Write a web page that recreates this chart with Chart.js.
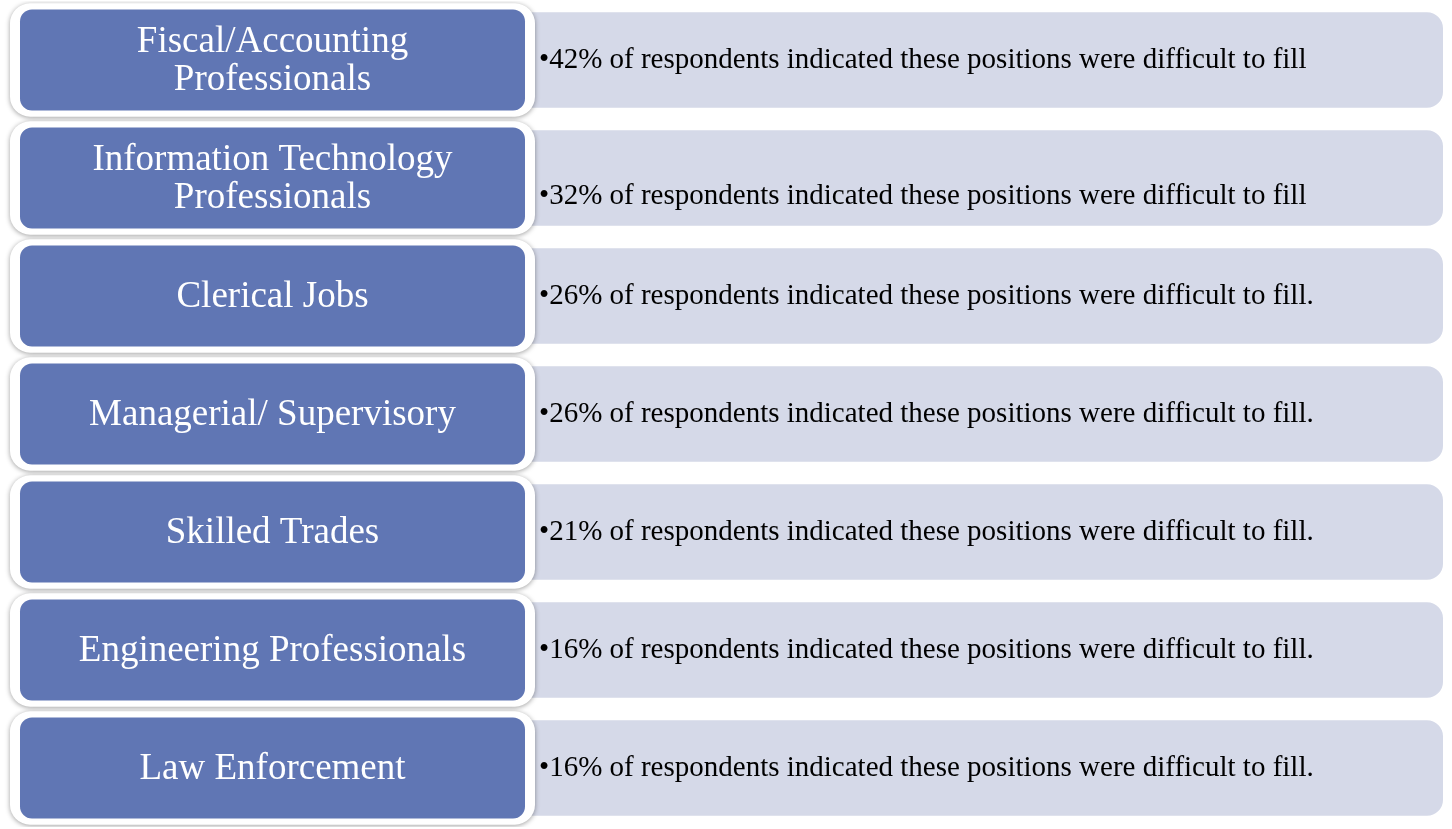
<!DOCTYPE html>
<html>
<head>
<meta charset="utf-8">
<script src="https://cdn.jsdelivr.net/npm/chart.js@4/dist/chart.umd.min.js"></script>
<style>
  html, body { margin: 0; padding: 0; background: #fff; }
  canvas { display: block; }
</style>
</head>
<body>
<canvas id="fillChart" width="1452" height="829"></canvas>
<script>
// categories (left boxes)
const categories = [
    ['Fiscal/Accounting', 'Professionals'],
    ['Information Technology', 'Professionals'],
    ['Clerical Jobs'],
    ['Managerial/ Supervisory'],
    ['Skilled Trades'],
    ['Engineering Professionals'],
    ['Law Enforcement']
];
// share of respondents saying these positions were difficult to fill
const difficultPct = [42, 32, 26, 26, 21, 16, 16];
// sentence ending used in the source text
const endings = ['', '', '.', '.', '.', '.', '.'];

// layout bits (not data)
const detailOffsetY = [0, 18, 0, 0, 0, 0, 0];
const BLUE = '#6076b4';
const LIGHT = '#d5d9e8';

const rowLabels = categories.map(c => c.join(' '));

const shadowPlugin = {
    id: 'frameShadow',
    beforeDatasetDraw(chart, args) {
        if (args.index === 1) {
            const ctx = chart.ctx;
            ctx.save();
            ctx.shadowColor = 'rgba(0,0,0,0.38)';
            ctx.shadowBlur = 5;
            ctx.shadowOffsetX = 0;
            ctx.shadowOffsetY = 1;
        }
    },
    afterDatasetDraw(chart, args) {
        if (args.index === 1) chart.ctx.restore();
    }
};

const textPlugin = {
    id: 'boxText',
    afterDatasetsDraw(chart) {
        const ctx = chart.ctx;
        const blue = chart.getDatasetMeta(0).data;
        const frame = chart.getDatasetMeta(1).data;
        ctx.save();
        ctx.textBaseline = 'middle';
        for (let i = 0; i < categories.length; i++) {
            const b = blue[i];
            // left label, centred in the blue box
            const cx = (b.base + b.x) / 2;
            const lines = categories[i];
            const lh = 38;
            ctx.fillStyle = '#ffffff';
            ctx.font = '37px "Liberation Serif", serif';
            ctx.textAlign = 'center';
            lines.forEach((ln, k) => {
                ctx.fillText(ln, cx, b.y + 1 + (k - (lines.length - 1) / 2) * lh);
            });
            // detail text in the light box
            ctx.fillStyle = '#000000';
            ctx.font = '29px "Liberation Serif", serif';
            ctx.textAlign = 'left';
            const txt = '\u2022' + difficultPct[i] + '% of respondents indicated these positions were difficult to fill' + endings[i];
            ctx.fillText(txt, frame[i].x + 4, b.y + detailOffsetY[i]);
        }
        ctx.restore();
    }
};

const ctx = document.getElementById('fillChart').getContext('2d');
new Chart(ctx, {
    type: 'bar',
    data: {
        labels: rowLabels,
        datasets: [
            {
                // blue category box (drawn on top)
                data: difficultPct.map(() => [20, 525]),
                backgroundColor: BLUE,
                borderRadius: 12,
                borderSkipped: false,
                barPercentage: 0.855,
                categoryPercentage: 1,
                grouped: false
            },
            {
                // white frame with shadow
                data: difficultPct.map(() => [10, 535]),
                backgroundColor: '#ffffff',
                borderRadius: 20,
                borderSkipped: false,
                barPercentage: 0.96,
                categoryPercentage: 1,
                grouped: false
            },
            {
                // light detail box
                data: difficultPct.map(() => [500, 1443]),
                backgroundColor: LIGHT,
                borderRadius: 16,
                borderSkipped: false,
                barPercentage: 0.81,
                categoryPercentage: 1,
                grouped: false
            }
        ]
    },
    options: {
        indexAxis: 'y',
        responsive: false,
        animation: false,
        layout: { padding: { top: 1, bottom: 2, left: 0, right: 0 } },
        plugins: {
            legend: { display: false },
            tooltip: { enabled: false }
        },
        scales: {
            x: { type: 'linear', min: 0, max: 1452, display: false },
            y: { display: false }
        }
    },
    plugins: [shadowPlugin, textPlugin]
});
</script>
</body>
</html>
